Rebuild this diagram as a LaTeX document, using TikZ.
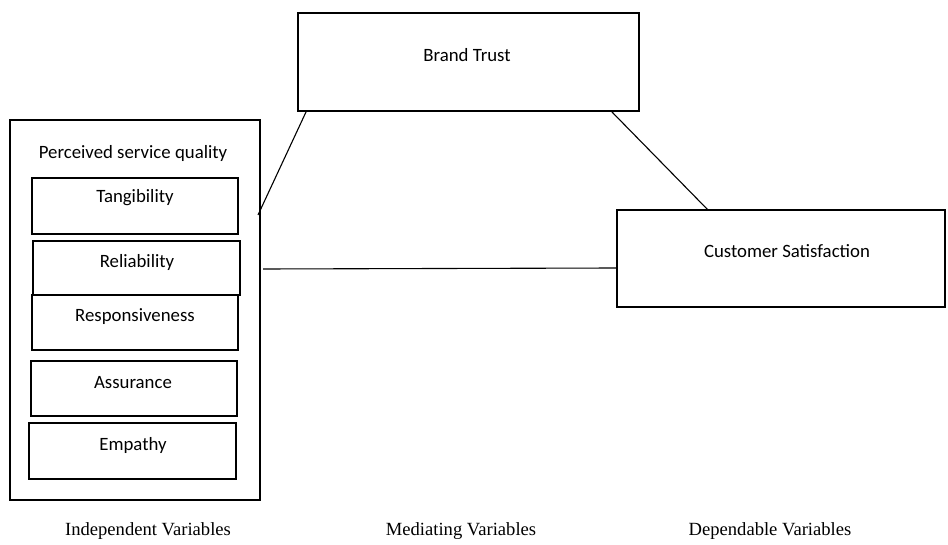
\documentclass[tikz,border=0pt]{standalone}
\usepackage{fontspec}
\setmainfont{Carlito}
\newfontfamily\serifface{Liberation Serif}
\begin{document}
\begin{tikzpicture}[x=1pt,y=-1pt,
  lbl/.style={font=\fontsize{18.8}{22}\selectfont,inner sep=0pt},
  foot/.style={font=\serifface\fontsize{18.6}{22}\selectfont,inner sep=0pt},
  frame/.style={line width=1.2pt},
  link/.style={line width=1.1pt}]
\useasboundingbox (0,0) rectangle (948,545);
% outer frame
\draw[frame] (10,120) rectangle (260,500);
\node[lbl] (psq) at (133,153) {Perceived service quality};
% dimensions
\draw[frame] (32,178) rectangle (238,234);
\node[lbl] (tan) at (135,198) {Tangibility};
\draw[frame] (33,241) rectangle (240,295);
\node[lbl] (rel) at (137,262) {Reliability};
\draw[frame] (32,295) rectangle (238,350);
\node[lbl] (res) at (135,317) {Responsiveness};
\draw[frame] (31,361) rectangle (237,416);
\node[lbl] (ass) at (133,383) {Assurance};
\draw[frame] (29,423) rectangle (236,479);
\node[lbl] (emp) at (133,445) {Empathy};
% brand trust
\draw[frame] (298,13) rectangle (639,111);
\node[lbl] (bt) at (467,55) {Brand Trust};
% customer satisfaction
\draw[frame] (617,210) rectangle (945,307);
\node[lbl] (cs) at (787,251) {Customer Satisfaction};
% connectors
\coordinate (a1) at (258,215);
\coordinate (a2) at (306,112);
\coordinate (b1) at (612,112);
\coordinate (b2) at (708,210);
\coordinate (c1) at (263,269);
\coordinate (c2) at (617,268);
\draw[link] (a1) -- (a2);
\draw[link] (b1) -- (b2);
\draw[link] (c1) -- (c2);
% footer labels
\node[foot] (iv) at (148,531) {Independent Variables};
\node[foot] (mv) at (461,531) {Mediating Variables};
\node[foot] (dv) at (770,531) {Dependable Variables};
\end{tikzpicture}
\end{document}
